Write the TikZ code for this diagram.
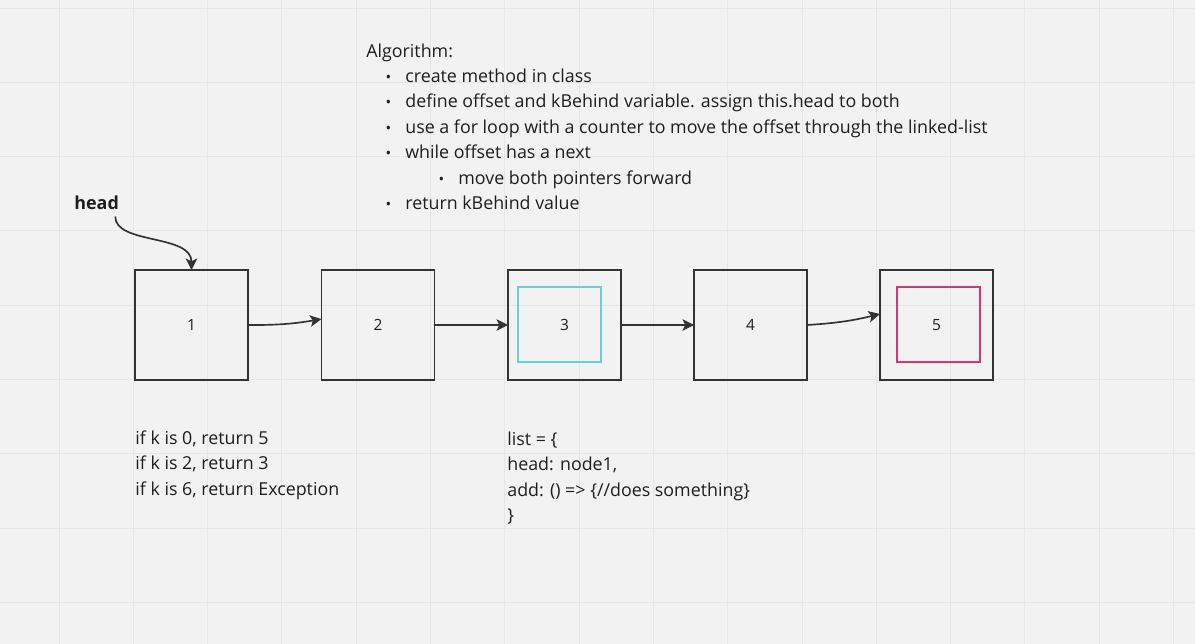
\documentclass[tikz,border=0pt]{standalone}
\usepackage{fontspec}
\setmainfont{Open Sans}
\usetikzlibrary{arrows.meta}
\definecolor{paper}{HTML}{F2F2F2}
\definecolor{gridgray}{HTML}{E6E6E6}
\definecolor{ink}{HTML}{333333}
\definecolor{textgray}{HTML}{1E1E1E}
\definecolor{cyanframe}{HTML}{66CFD8}
\definecolor{pinkframe}{HTML}{D6357A}
\newcommand{\bul}{{\fontsize{8.5}{8.5}\selectfont\textbullet}}
\newcommand{\listitem}[3]{%
 \node ({#1}) [box] at ({#2}) {#3};%
}
\newcommand{\algitem}[3]{%
 \node ({#1}) [txt] at ({#2}) {\llap{\bul\hspace{8pt}}#3};%
}

\begin{document}
\begin{tikzpicture}[x=0.02cm,y=-0.02cm,
  box/.style={draw=ink, line width=1.1pt, minimum width=2.26cm, minimum height=2.2cm,
    inner sep=0pt, outer sep=0pt, text=textgray, font=\fontsize{8.8}{10}\selectfont},
  frame/.style={line width=0.85pt, minimum width=1.66cm, minimum height=1.5cm, inner sep=0pt},
  txt/.style={anchor=base west, inner sep=0pt, text=textgray, font=\fontsize{10.15}{12.5}\selectfont},
  link/.style={draw=ink, line width=0.95pt, -{Stealth[length=6.5pt,width=6.5pt,inset=1.5pt]}},
  gridline/.style={draw=gridgray, line width=0.55pt}]
   \useasboundingbox (0,0) rectangle (1195,644);
   \fill[paper] (0,0) rectangle (1195,644);
   % board grid
   \foreach \i in {0,...,15} \draw[gridline] ({59+74.3*\i},0) -- ++(0,644);
   \foreach \j in {0,...,8} \draw[gridline] (0,{8+74.3*\j}) -- ++(1195,0);
   % algorithm notes
   \node (alg) [txt] at (366,58) {Algorithm:};
   \algitem{a1}{405,82.5}{create method in class};
   \algitem{a2}{405,108}{define offset and kBehind variable. assign this.head to both};
   \algitem{a3}{405,133.5}{use a for loop with a counter to move the offset through the linked-list};
   \algitem{a4}{405,159}{while offset has a next};
   \algitem{a5}{458,184.5}{move both pointers forward};
   \algitem{a6}{405,210}{return kBehind value};
   % linked list
   \node (head) [anchor=base west, inner sep=0pt, text=textgray, font=\fontsize{10.2}{12}\selectfont\bfseries] at (74,210) {head};
   \node (f3) [frame, draw=cyanframe] at (559.5,324.5) {};
   \node (f5) [frame, draw=pinkframe] at (938.5,324.5) {};
   \listitem{n1}{191.5,325}{1};
   \listitem{n2}{378,325}{2};
   \listitem{n3}{564.5,325}{3};
   \listitem{n4}{750.5,325}{4};
   \listitem{n5}{936.5,325}{5};
   \draw[link] ([xshift=-0.08cm,yshift=-0.12cm]head.south east) .. controls +(0,28) and +(0,-36) .. (n1.north);
   \draw[link] (n1.east) to[bend right=5] (n2.174);
   \draw[link] (n2) -- (n3);
   \draw[link] (n3) -- (n4);
   \draw[link] (n4.east) to[bend right=5] (n5.169);
   % examples
   \node (k1) [txt] at (135,444) {if k is 0, return 5};
   \node (k2) [txt] at (135,469.5) {if k is 2, return 3};
   \node (k3) [txt] at (135,495) {if k is 6, return Exception};
   \node (l1) [txt] at (507,445) {list = \{};
   \node (l2) [txt] at (507,470.5) {head: node1,};
   \node (l3) [txt] at (507,496) {add: () => \{//does something\}};
   \node (l4) [txt] at (507,521.5) {\}};
\end{tikzpicture}
\end{document}
